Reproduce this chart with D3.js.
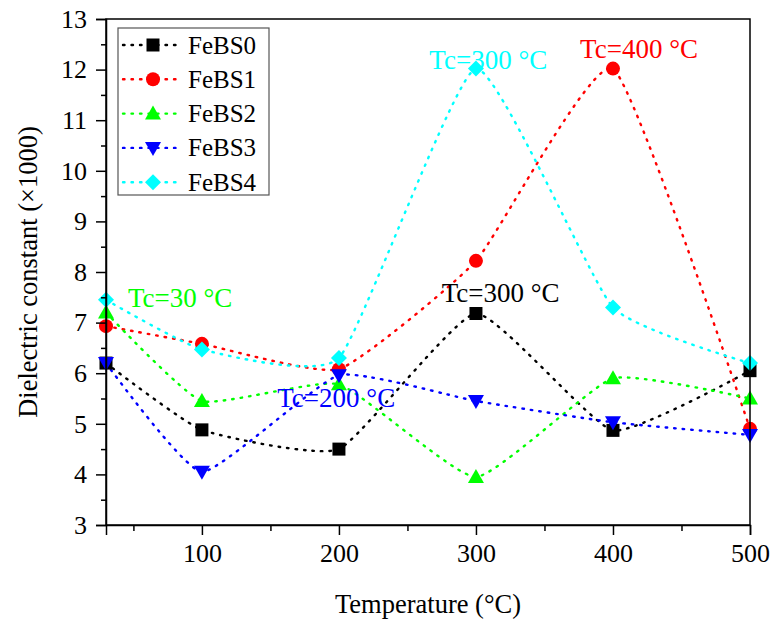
<!DOCTYPE html>
<html>
<head>
<meta charset="utf-8">
<script src="https://cdn.jsdelivr.net/npm/d3@7"></script>
<style>
  body { margin: 0; background: #fff; }
  text { font-family: "Liberation Serif", "Times New Roman", serif; }
</style>
</head>
<body>
<div id="chart"></div>
<script>
// temperatures (°C)
const temps = [30, 100, 200, 300, 400, 500];

// dielectric constant (x1000) per sample
const febs0 = [6.2, 4.88, 4.5, 7.18, 4.87, 6.05];
const febs1 = [6.93, 6.58, 6.08, 8.22, 12.02, 4.9];
const febs2 = [7.2, 5.45, 5.78, 3.95, 5.9, 5.5];
const febs3 = [6.2, 4.05, 5.96, 5.45, 5.03, 4.78];
const febs4 = [7.45, 6.47, 6.3, 12.02, 7.3, 6.2];

const seriesNames = ["FeBS0", "FeBS1", "FeBS2", "FeBS3", "FeBS4"];
const seriesColors = ["#000000", "#ff0000", "#00ff00", "#0000ff", "#00ffff"];
const seriesShapes = ["square", "circle", "triangle", "triangleDown", "diamond"];

const yTicks = [3, 4, 5, 6, 7, 8, 9, 10, 11, 12, 13];
const xTicks = [100, 200, 300, 400, 500];

// Tc annotations: [text, temperature, value, color]
const notes = [
    ["Tc=30 °C", 46, 7.3, "#00ff00"],
    ["Tc=200 °C", 155, 5.33, "#0000ff"],
    ["Tc=300 °C", 266, 12.01, "#00ffff"],
    ["Tc=400 °C", 376, 12.23, "#ff0000"],
    ["Tc=300 °C", 275, 7.4, "#000000"]
];

const W = 780, H = 620;
const margin = { top: 19, right: 30, bottom: 95, left: 106 };

const svg = d3.select("#chart").append("svg")
    .attr("width", W).attr("height", H);

const x = d3.scaleLinear().domain([30, 500]).range([margin.left, W - margin.right]);
const y = d3.scaleLinear().domain([3, 13]).range([H - margin.bottom, margin.top]);

// marker paths centred on 0,0
function shapePath(shape) {
    switch (shape) {
        case "square": return "M-6.5,-6.5H6.5V6.5H-6.5Z";
        case "circle": return "M-7,0A7,7 0 1,0 7,0A7,7 0 1,0 -7,0Z";
        case "triangle": return "M0,-8L8,6L-8,6Z";
        case "triangleDown": return "M0,8L8,-6L-8,-6Z";
        case "diamond": return "M0,-8L8,0L0,8L-8,0Z";
    }
}

const allSeries = [febs0, febs1, febs2, febs3, febs4];

const line = d3.line()
    .x((d, i) => x(temps[i]))
    .y(d => y(d))
    .curve(d3.curveCardinal.tension(0.55));

const plot = svg.append("g");

allSeries.forEach((vals, k) => {
    plot.append("path")
        .datum(vals)
        .attr("d", line)
        .attr("fill", "none")
        .attr("stroke", seriesColors[k])
        .attr("stroke-width", 2.4)
        .attr("stroke-linecap", "round")
        .attr("stroke-dasharray", "1.5,7");
});

allSeries.forEach((vals, k) => {
    plot.selectAll(null)
        .data(vals)
        .enter().append("path")
        .attr("d", shapePath(seriesShapes[k]))
        .attr("transform", (d, i) => `translate(${x(temps[i])},${y(d)})`)
        .attr("fill", seriesColors[k]);
});

// annotations
svg.selectAll(".note")
    .data(notes)
    .enter().append("text")
    .attr("class", "note")
    .attr("x", d => x(d[1]))
    .attr("y", d => y(d[2]))
    .attr("fill", d => d[3])
    .style("font-size", "27px")
    .text(d => d[0]);

// frame
svg.append("rect")
    .attr("x", margin.left).attr("y", margin.top)
    .attr("width", W - margin.left - margin.right)
    .attr("height", H - margin.top - margin.bottom)
    .attr("fill", "none")
    .attr("stroke", "#000")
    .attr("stroke-width", 1.5);

// axes
svg.append("g")
    .attr("transform", `translate(${margin.left},0)`)
    .call(d3.axisLeft(y).tickValues(yTicks).tickSize(10).tickPadding(9).tickFormat(d3.format("d")));
svg.append("g")
    .attr("transform", `translate(${margin.left},0)`)
    .call(d3.axisLeft(y).tickValues(d3.range(3.5, 13, 1)).tickSize(5).tickFormat(""))
    .call(g => g.select(".domain").remove());

svg.append("g")
    .attr("transform", `translate(0,${H - margin.bottom})`)
    .call(d3.axisBottom(x).tickValues(xTicks).tickSize(10).tickPadding(9).tickFormat(d3.format("d")));
svg.append("g")
    .attr("transform", `translate(0,${H - margin.bottom})`)
    .call(d3.axisBottom(x).tickValues([50, 150, 250, 350, 450]).tickSize(6).tickFormat(""))
    .call(g => g.select(".domain").remove());

svg.selectAll(".domain").attr("stroke-width", 1.5);
svg.selectAll(".tick line").attr("stroke-width", 1.5);
svg.selectAll(".tick text")
    .style("font-family", "'Liberation Serif', serif")
    .style("font-size", "26px")
    .attr("fill", "#000");

// axis titles
svg.append("text")
    .attr("x", (margin.left + W - margin.right) / 2)
    .attr("y", 613)
    .attr("text-anchor", "middle")
    .style("font-size", "26.5px")
    .text("Temperature (°C)");

svg.append("text")
    .attr("transform", `translate(37,${(margin.top + H - margin.bottom) / 2}) rotate(-90)`)
    .attr("text-anchor", "middle")
    .style("font-size", "26.5px")
    .text("Dielectric constant (×1000)");

// legend
const legend = svg.append("g").attr("transform", "translate(118,28)");
legend.append("rect")
    .attr("width", 151).attr("height", 167)
    .attr("fill", "#fff")
    .attr("stroke", "#555")
    .attr("stroke-width", 1.2);

const item = legend.selectAll(".item")
    .data(seriesNames)
    .enter().append("g")
    .attr("transform", (d, i) => `translate(0,${17 + i * 34.3})`);

item.append("line")
    .attr("x1", 5).attr("x2", 62)
    .attr("stroke", (d, i) => seriesColors[i])
    .attr("stroke-width", 2.4)
    .attr("stroke-linecap", "round")
    .attr("stroke-dasharray", "1.5,7");
item.append("path")
    .attr("d", (d, i) => shapePath(seriesShapes[i]))
    .attr("transform", "translate(35,0)")
    .attr("fill", (d, i) => seriesColors[i]);
item.append("text")
    .attr("x", 70).attr("y", 8.5)
    .style("font-size", "25px")
    .text(d => d);
</script>
</body>
</html>
